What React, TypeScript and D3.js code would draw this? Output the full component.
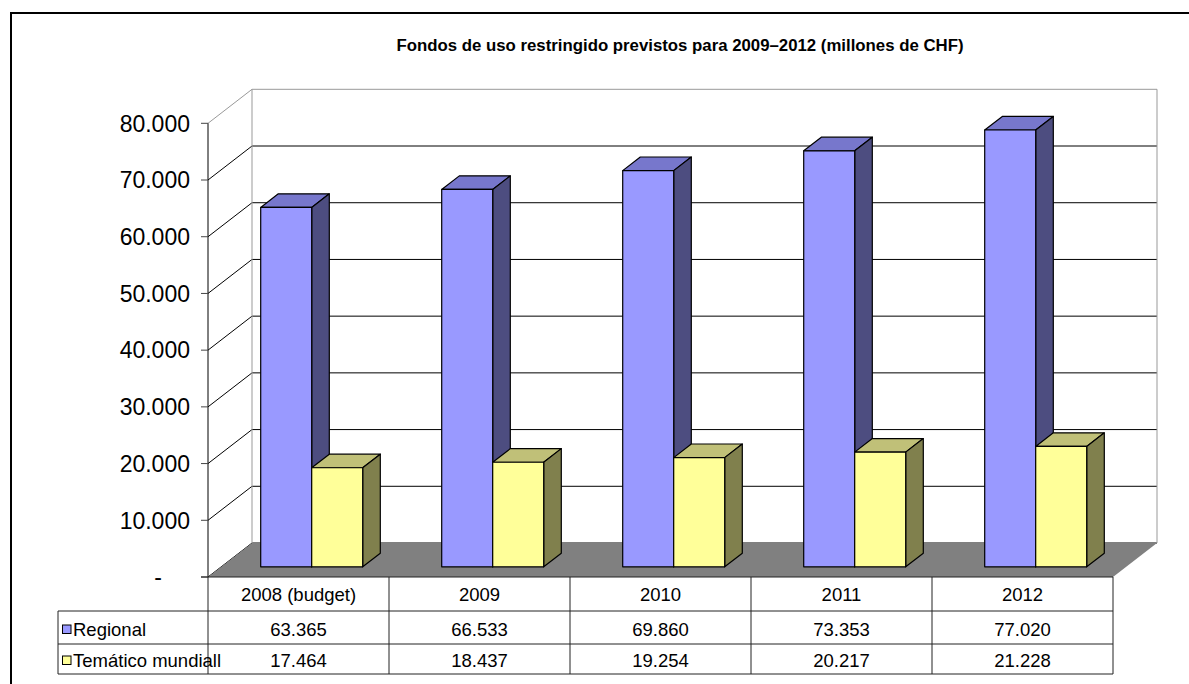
import * as d3 from "d3";

// Fondos de uso restringido previstos (millones de CHF, "." = separador de miles)
const categories = ["2008 (budget)", "2009", "2010", "2011", "2012"];
const seriesNames = ["Regional", "Temático mundiall"];
const regional = [63365, 66533, 69860, 73353, 77020];
const tematico = [17464, 18437, 19254, 20217, 21228];
const yTicks = [0, 10000, 20000, 30000, 40000, 50000, 60000, 70000, 80000];

const W = 1189;
const H = 684;
const PLOT_L = 208;
const PLOT_R = 1113;
const FLOOR_Y = 577;
const TOP_Y = 123.3;
// profundidad de la "caja" 3D
const DX = 44;
const DY = 34;
const Z0 = 0.3;
const Z1 = 0.7;
const FONT = "Arial, 'Liberation Sans', sans-serif";
const TABLE_FS = 18.5;

const colors = [
  { front: "#9999FF", top: "#7777CC", side: "#4D4D80" },
  { front: "#FFFF99", top: "#C0C078", side: "#80804D" },
];

const locale = d3.formatLocale({
  decimal: ",",
  thousands: ".",
  grouping: [3],
  currency: ["", ""],
});
const fmt = locale.format(",");

export default function App() {
  const y = d3.scaleLinear().domain([0, 80000]).range([FLOOR_Y, TOP_Y]);
  const x = d3
    .scaleBand<string>()
    .domain(categories)
    .range([PLOT_L, PLOT_R])
    .paddingInner(0.4365)
    .paddingOuter(0.4365 / 2);
  const xs = d3
    .scaleBand<string>()
    .domain(seriesNames)
    .range([0, x.bandwidth()]);
  const step = x.step();
  const values = [regional, tematico];

  const ox0 = DX * Z0;
  const oy0 = DY * Z0;
  const ox1 = DX * Z1;
  const oy1 = DY * Z1;

  // filas de la tabla
  const rowTop = [FLOOR_Y, 611, 644, 674];
  const TABLE_L = 58;

  return (
    <svg
      width={W}
      height={H}
      style={{ position: "absolute", left: 0, top: 0, background: "#fff" }}
      fontFamily={FONT}
    >
      {/* marco exterior */}
      <rect x={11} y={13} width={1300} height={800} fill="none" stroke="#000" strokeWidth={2} />

      <text x={680} y={51} textAnchor="middle" fontSize={16.8} fontWeight="bold">
        Fondos de uso restringido previstos para 2009–2012 (millones de CHF)
      </text>

      {/* paredes + líneas de división */}
      {yTicks.map((t) => {
        const yy = y(t);
        const edge = t === 80000;
        return (
          <g key={t} stroke={edge ? "#999" : "#000"} strokeWidth={1}>
            <line x1={PLOT_L} y1={yy} x2={PLOT_L + DX} y2={yy - DY} />
            <line x1={PLOT_L + DX} y1={yy - DY} x2={PLOT_R + DX} y2={yy - DY} />
          </g>
        );
      })}
      <line x1={PLOT_L + DX} y1={y(80000) - DY} x2={PLOT_L + DX} y2={FLOOR_Y - DY} stroke="#999" />
      <line x1={PLOT_R + DX} y1={y(80000) - DY} x2={PLOT_R + DX} y2={FLOOR_Y - DY} stroke="#999" />

      {/* suelo */}
      <polygon
        points={[
          [PLOT_L, FLOOR_Y],
          [PLOT_R, FLOOR_Y],
          [PLOT_R + DX, FLOOR_Y - DY],
          [PLOT_L + DX, FLOOR_Y - DY],
        ]
          .map((p) => p.join(","))
          .join(" ")}
        fill="#808080"
      />

      {/* barras 3D */}
      {categories.map((cat, ci) =>
        seriesNames.map((s, si) => {
          const v = values[si][ci];
          const xa = (x(cat) ?? 0) + (xs(s) ?? 0);
          const xb = xa + xs.bandwidth();
          const yt = y(v);
          const yb = y(0);
          const c = colors[si];
          const pts = (arr: number[][]) => arr.map((p) => p.join(",")).join(" ");
          return (
            <g key={cat + s} stroke="#000" strokeWidth={1.2} strokeLinejoin="round">
              <polygon
                fill={c.top}
                points={pts([
                  [xa + ox0, yt - oy0],
                  [xb + ox0, yt - oy0],
                  [xb + ox1, yt - oy1],
                  [xa + ox1, yt - oy1],
                ])}
              />
              <polygon
                fill={c.side}
                points={pts([
                  [xb + ox0, yt - oy0],
                  [xb + ox1, yt - oy1],
                  [xb + ox1, yb - oy1],
                  [xb + ox0, yb - oy0],
                ])}
              />
              <rect
                x={xa + ox0}
                y={yt - oy0}
                width={xb - xa}
                height={yb - yt}
                fill={c.front}
              />
            </g>
          );
        })
      )}

      {/* eje Y */}
      <line x1={PLOT_L} y1={y(80000)} x2={PLOT_L} y2={FLOOR_Y} stroke="#000" />
      {yTicks.map((t) => (
        <g key={"tk" + t}>
          <line x1={PLOT_L - 7} x2={PLOT_L} y1={y(t)} y2={y(t)} stroke="#444" />
          <text
            x={t === 0 ? 162 : 190}
            y={y(t)}
            dy="0.36em"
            textAnchor="end"
            fontSize={23}
          >
            {t === 0 ? "-" : fmt(t)}
          </text>
        </g>
      ))}

      {/* tabla de datos */}
      <g stroke="#222" strokeWidth={1} fill="none">
        <line x1={PLOT_L - 7} x2={PLOT_R} y1={rowTop[0]} y2={rowTop[0]} />
        <line x1={TABLE_L} x2={PLOT_R} y1={rowTop[1]} y2={rowTop[1]} />
        <line x1={TABLE_L} x2={PLOT_R} y1={rowTop[2]} y2={rowTop[2]} />
        <line x1={TABLE_L} x2={PLOT_R} y1={rowTop[3]} y2={rowTop[3]} />
        <line x1={TABLE_L} x2={TABLE_L} y1={rowTop[1]} y2={rowTop[3]} />
        {d3.range(categories.length + 1).map((i) => (
          <line
            key={i}
            x1={PLOT_L + i * step}
            x2={PLOT_L + i * step}
            y1={rowTop[0]}
            y2={rowTop[3]}
          />
        ))}
      </g>
      {categories.map((cat, ci) => (
        <text
          key={"h" + cat}
          x={PLOT_L + (ci + 0.5) * step}
          y={601}
          textAnchor="middle"
          fontSize={TABLE_FS}
        >
          {cat}
        </text>
      ))}
      {seriesNames.map((s, si) => {
        const base = [635.5, 666.5][si];
        return (
          <g key={"row" + s}>
            <rect
              x={62.5}
              y={base - 10.5}
              width={8.5}
              height={8.5}
              fill={colors[si].front}
              stroke="#000"
              strokeWidth={1}
            />
            <text x={73} y={base} fontSize={TABLE_FS}>
              {s}
            </text>
            {values[si].map((v, ci) => (
              <text
                key={ci}
                x={PLOT_L + (ci + 0.5) * step}
                y={base}
                textAnchor="middle"
                fontSize={TABLE_FS}
              >
                {fmt(v)}
              </text>
            ))}
          </g>
        );
      })}
    </svg>
  );
}
